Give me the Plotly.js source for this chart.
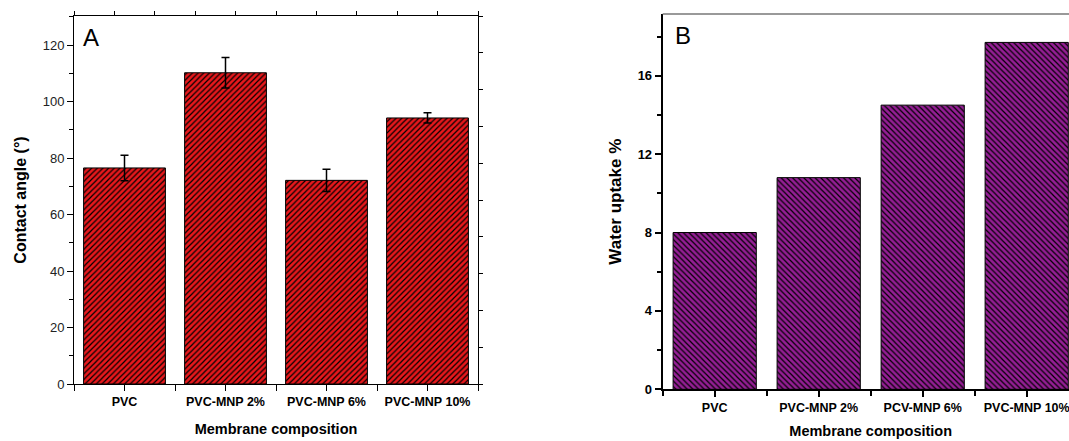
<!DOCTYPE html>
<html>
<head>
<meta charset="utf-8">
<script src="https://cdn.plot.ly/plotly-3.0.1.min.js"></script>
<style>
  html, body { margin: 0; padding: 0; overflow: hidden; background: #fff; }
  #chart { width: 1080px; height: 441px; }
</style>
</head>
<body>
<div id="chart"></div>
<script>
// ---- data ----
const categoriesA = ["PVC", "PVC-MNP 2%", "PVC-MNP 6%", "PVC-MNP 10%"];
const contactAngle = [76.5, 110.2, 72.1, 94.2];
const contactAngleErr = [4.5, 5.4, 3.9, 1.8];

const categoriesB = ["PVC", "PVC-MNP 2%", "PCV-MNP 6%", "PVC-MNP 10%"];
const waterUptake = [8.0, 10.8, 14.5, 17.7];

const yTicksA = [0, 20, 40, 60, 80, 100, 120];
const yTicksB = [0, 4, 8, 12, 16];

// ---- layout helpers ----
const W = 1080, H = 441;
const FONT = "Liberation Sans, Arial, sans-serif";
const px = (a, b) => [a / W, b / W];
const py = (top, bottom) => [(H - bottom) / H, (H - top) / H];

const RED = "#e8181c", PURPLE = "#951e95";

const traces = [
  {
    type: "bar", x: categoriesA, y: contactAngle, xaxis: "x", yaxis: "y",
    width: 0.81,
    marker: {
      color: RED,
      line: { color: "#000", width: 1 },
      pattern: { shape: "/", fgcolor: "#000", bgcolor: RED, size: 4, solidity: 0.3 }
    },
    error_y: { type: "data", array: contactAngleErr, visible: true, color: "#000", thickness: 1.5, width: 4 },
    showlegend: false, hoverinfo: "x+y"
  },
  {
    type: "bar", x: categoriesB, y: waterUptake, xaxis: "x2", yaxis: "y2",
    width: 0.8,
    marker: {
      color: PURPLE,
      line: { color: "#000", width: 1 },
      pattern: { shape: "\\", fgcolor: "#000", bgcolor: PURPLE, size: 4, solidity: 0.3 }
    },
    showlegend: false, hoverinfo: "x+y"
  },
  // empty traces so overlay tick axes are instantiated
  { type: "scatter", x: [], y: [], xaxis: "x3", yaxis: "y", showlegend: false },
  { type: "scatter", x: [], y: [], xaxis: "x4", yaxis: "y2", showlegend: false },
  { type: "scatter", x: [], y: [], xaxis: "x5", yaxis: "y", showlegend: false },
  { type: "scatter", x: [], y: [], xaxis: "x", yaxis: "y3", showlegend: false }
];

const domAx = px(74, 478), domAy = py(16, 384);
const domBx = px(662.7, 1078.7), domBy = py(14, 389.3);

const layout = {
  width: W, height: H,
  margin: { l: 0, r: 0, t: 0, b: 0 },
  paper_bgcolor: "#fff", plot_bgcolor: "#fff",
  font: { family: FONT, color: "#000" },
  xaxis: {
    domain: domAx, anchor: "y", type: "category", range: [-0.5, 3.5],
    showline: true, linecolor: "#000", linewidth: 1, mirror: true,
    ticks: "outside", ticklen: 6, tickwidth: 1, tickcolor: "#000",
    tickfont: { family: FONT, size: 12.5, color: "#000", weight: "bold" },
    showgrid: false, zeroline: false,
    title: { text: "Membrane composition", font: { family: FONT, size: 14.5, weight: "bold" }, standoff: 15 },
    fixedrange: true
  },
  yaxis: {
    domain: domAy, anchor: "x", range: [0, 130.3],
    tickvals: yTicksA,
    showline: true, linecolor: "#000", linewidth: 1, mirror: true,
    ticks: "outside", ticklen: 6, tickwidth: 1, tickcolor: "#000",
    minor: { dtick: 10, ticks: "outside", ticklen: 4, tickcolor: "#000", showgrid: false },
    tickfont: { family: FONT, size: 13, color: "#222" },
    showgrid: false, zeroline: false,
    title: { text: "Contact angle (°)", font: { family: FONT, size: 16, weight: "bold" }, standoff: 12 },
    fixedrange: true
  },
  xaxis3: {
    overlaying: "x", anchor: "y", side: "bottom", range: [-0.5, 3.5],
    tick0: 0.5, dtick: 1, ticks: "outside", ticklen: 6, tickcolor: "#000",
    showticklabels: false, showline: false, showgrid: false, zeroline: false, fixedrange: true
  },
  xaxis5: {
    overlaying: "x", anchor: "y", side: "top", range: [0, 10],
    dtick: 1, ticks: "outside", ticklen: 4, tickcolor: "#000",
    showticklabels: false, showline: false, showgrid: false, zeroline: false, fixedrange: true
  },
  yaxis3: {
    overlaying: "y", anchor: "x", side: "right", range: [0, 10],
    dtick: 1, ticks: "outside", ticklen: 4, tickcolor: "#000",
    showticklabels: false, showline: false, showgrid: false, zeroline: false, fixedrange: true
  },
  xaxis2: {
    domain: domBx, anchor: "y2", type: "category", range: [-0.5, 3.5],
    showline: true, linecolor: "#000", linewidth: 2, mirror: false,
    ticks: "outside", ticklen: 6, tickwidth: 2, tickcolor: "#000",
    tickfont: { family: FONT, size: 12.5, color: "#000", weight: "bold" },
    showgrid: false, zeroline: false,
    title: { text: "Membrane composition", font: { family: FONT, size: 14.5, weight: "bold" }, standoff: 12 },
    fixedrange: true
  },
  xaxis4: {
    overlaying: "x2", anchor: "y2", side: "bottom", range: [-0.5, 3.5],
    tick0: 0.5, dtick: 1, ticks: "outside", ticklen: 6, tickwidth: 2, tickcolor: "#000",
    showticklabels: false, showline: false, showgrid: false, zeroline: false, fixedrange: true
  },
  yaxis2: {
    domain: domBy, anchor: "x2", range: [0, 19.15],
    tickvals: yTicksB,
    showline: true, linecolor: "#000", linewidth: 2,
    ticks: "outside", ticklen: 6, tickwidth: 2, tickcolor: "#000",
    minor: { dtick: 2, ticks: "outside", ticklen: 4, tickwidth: 2, tickcolor: "#000", showgrid: false },
    tickfont: { family: FONT, size: 13, color: "#000", weight: "bold" },
    showgrid: false, zeroline: false,
    title: { text: "Water uptake %", font: { family: FONT, size: 17, weight: "bold" }, standoff: 12 },
    fixedrange: true
  },
  shapes: [
    { type: "line", xref: "x2 domain", yref: "y2 domain", x0: 0, x1: 1, y0: 1, y1: 1,
      line: { color: "#777", width: 1.5 } }
  ],
  annotations: [
    { text: "A", xref: "x domain", yref: "y domain", x: 0.018, y: 0.985, xanchor: "left", yanchor: "top",
      showarrow: false, font: { family: FONT, size: 24, color: "#000" } },
    { text: "B", xref: "x2 domain", yref: "y2 domain", x: 0.025, y: 0.985, xanchor: "left", yanchor: "top",
      showarrow: false, font: { family: FONT, size: 24, color: "#000" } }
  ]
};

Plotly.newPlot("chart", traces, layout, { displayModeBar: false, staticPlot: true });
</script>
</body>
</html>
